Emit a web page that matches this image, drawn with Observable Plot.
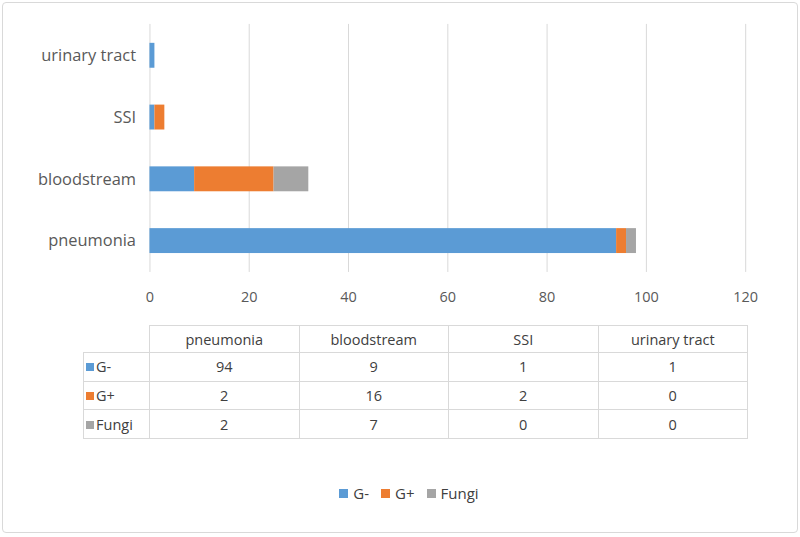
<!DOCTYPE html>
<html>
<head>
<meta charset="utf-8">
<script src="https://cdn.jsdelivr.net/npm/d3@7"></script>
<script src="https://cdn.jsdelivr.net/npm/@observablehq/plot@0.6"></script>
<style>
  html, body { margin: 0; padding: 0; background: #fff; }
  #frame { position: relative; width: 796px; height: 531px; margin: 2px; border: 1px solid #d9d9d9; border-radius: 4px; box-sizing: border-box; font-family: "Open Sans", "Liberation Sans", sans-serif; color: #595959; overflow: hidden; }
  #chart { position: absolute; left: -3px; top: -3px; }
  #tbl { position: absolute; left: 80px; top: 322px; border-collapse: collapse; table-layout: fixed; width: 664px; font-size: 14.5px; color: #404040; }
  #tbl td { border: 1px solid #d9d9d9; text-align: center; padding: 0; overflow: hidden; white-space: nowrap; }
  #tbl td.blank { border: none; }
  #tbl td.lab { text-align: left; padding-left: 2px; }
  .sw { display: inline-block; width: 8px; height: 8px; margin-right: 2px; vertical-align: 1px; }
  #legend { position: absolute; top: 480px; left: 8px; width: 796px; text-align: center; font-size: 15px; color: #404040; }
  #legend span.item { margin: 0 6px; }
  #legend .sw { width: 9px; height: 9px; margin-right: 5px; }
</style>
</head>
<body>
<div id="frame">
  <div id="chart"></div>
  <table id="tbl"></table>
  <div id="legend"></div>
</div>
<script>
const categories = ["pneumonia", "bloodstream", "SSI", "urinary tract"];
const series = ["G-", "G+", "Fungi"];
const gNeg = [94, 9, 1, 1];
const gPos = [2, 16, 2, 0];
const fungi = [2, 7, 0, 0];
const colors = ["#5B9BD5", "#ED7D31", "#A5A5A5"];
const xTicks = [0, 20, 40, 60, 80, 100, 120];

const values = [gNeg, gPos, fungi];
const data = [];
series.forEach((s, si) => categories.forEach((c, ci) => data.push({category: c, series: s, value: values[si][ci]})));

const chart = Plot.plot({
  width: 800,
  height: 310,
  marginLeft: 150,
  marginRight: 52,
  marginTop: 24,
  marginBottom: 37,
  style: {fontFamily: "'Open Sans', 'Liberation Sans', sans-serif", fontSize: "14px", color: "#595959", background: "transparent"},
  x: {domain: [0, 120], ticks: xTicks, grid: false},
  y: {domain: categories.slice().reverse(), paddingInner: 0.6, paddingOuter: 0.3, label: null},
  color: {domain: series, range: colors},
  marks: [
    Plot.gridX(xTicks, {stroke: "#d9d9d9", strokeOpacity: 1, strokeWidth: 1}),
    Plot.barX(data, Plot.stackX({y: "category", x: "value", fill: "series", order: series})),
    Plot.axisX({ticks: xTicks, tickSize: 0, tickPadding: 19, label: null, fontSize: 14.5}),
    Plot.axisY({tickSize: 0, tickPadding: 14, label: null, fontSize: 16.5})
  ]
});
document.getElementById("chart").appendChild(chart);

// data table
const tbl = document.getElementById("tbl");
let html = '<colgroup><col style="width:66px">' + categories.map(() => '<col style="width:149.5px">').join("") + '</colgroup>';
html += '<tr style="height:27px"><td class="blank"></td>' +
  categories.map(c => `<td>${c}</td>`).join("") + '</tr>';
const rowH = [28.5, 28.5, 29];
series.forEach((s, si) => {
  html += `<tr style="height:${rowH[si]}px"><td class="lab"><span class="sw" style="background:${colors[si]}"></span>${s}</td>` +
    values[si].map(v => `<td>${v}</td>`).join("") + '</tr>';
});
tbl.innerHTML = html;

// legend
document.getElementById("legend").innerHTML = series.map((s, i) =>
  `<span class="item"><span class="sw" style="background:${colors[i]}"></span>${s}</span>`).join("");
</script>
</body>
</html>
